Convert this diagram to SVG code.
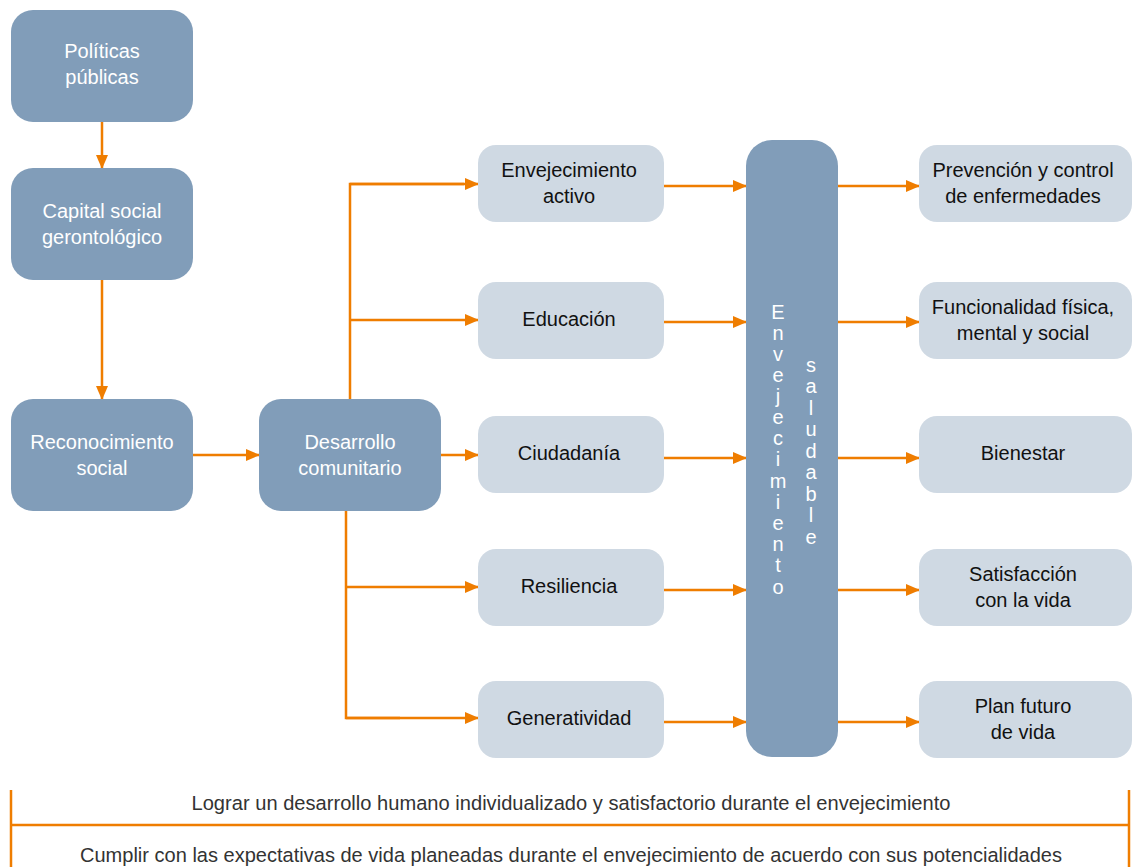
<svg xmlns="http://www.w3.org/2000/svg" width="1134" height="867" viewBox="0 0 1134 867">
<style>
.dk{fill:#819db9}
.lt{fill:#cfd9e3}
.tw{fill:#ffffff;font-family:"Liberation Sans",Arial,sans-serif;font-size:20px;text-anchor:middle}
.tb{fill:#111111;font-family:"Liberation Sans",Arial,sans-serif;font-size:20px;text-anchor:middle}
.bt{fill:#333333;font-family:"Liberation Sans",Arial,sans-serif;font-size:20.5px;text-anchor:middle}
.c{stroke:#ef7d00;stroke-width:2.5;fill:none}
.ca{stroke:#ef7d00;stroke-width:2.5;fill:none;marker-end:url(#ah)}
</style>
<defs>
<marker id="ah" markerWidth="14" markerHeight="12" refX="13" refY="6" orient="auto" markerUnits="userSpaceOnUse">
<path d="M0,0 L14,6 L0,12 Z" fill="#ef7d00"/>
</marker>
</defs>
<g id="connectors">
<line class="ca" x1="102" y1="122" x2="102" y2="168"/>
<line class="ca" x1="102" y1="280" x2="102" y2="399"/>
<line class="ca" x1="193" y1="455" x2="259" y2="455"/>
<polyline class="c" points="350,399 350,184 464,184"/>
<line class="ca" x1="350" y1="184" x2="478" y2="184"/>
<line class="ca" x1="350" y1="320" x2="478" y2="320"/>
<line class="ca" x1="441" y1="455" x2="478" y2="455"/>
<polyline class="c" points="346,511 346,718 400,718"/>
<line class="ca" x1="346" y1="587" x2="478" y2="587"/>
<line class="ca" x1="346" y1="718" x2="478" y2="718"/>
<line class="ca" x1="664" y1="186" x2="746" y2="186"/>
<line class="ca" x1="664" y1="322" x2="746" y2="322"/>
<line class="ca" x1="664" y1="458" x2="746" y2="458"/>
<line class="ca" x1="662" y1="590" x2="746" y2="590"/>
<line class="ca" x1="662" y1="722" x2="746" y2="722"/>
<line class="ca" x1="838" y1="186" x2="919" y2="186"/>
<line class="ca" x1="838" y1="322" x2="919" y2="322"/>
<line class="ca" x1="838" y1="458" x2="919" y2="458"/>
<line class="ca" x1="838" y1="590" x2="919" y2="590"/>
<line class="ca" x1="838" y1="722" x2="919" y2="722"/>
<line class="c" x1="11" y1="790" x2="11" y2="867" stroke-width="2"/>
<line class="c" x1="1129" y1="790" x2="1129" y2="867" stroke-width="2"/>
<line class="c" x1="11" y1="825" x2="1129" y2="825" stroke-width="3"/>
</g>
<g id="n-politicas"><rect class="dk" x="11" y="10" width="182" height="112" rx="22"/>
<text class="tw" x="102" y="58">Políticas</text><text class="tw" x="102" y="84">públicas</text></g>
<g id="n-capital"><rect class="dk" x="11" y="168" width="182" height="112" rx="22"/>
<text class="tw" x="102" y="218">Capital social</text><text class="tw" x="102" y="244">gerontológico</text></g>
<g id="n-reconocimiento"><rect class="dk" x="11" y="399" width="182" height="112" rx="22"/>
<text class="tw" x="102" y="449">Reconocimiento</text><text class="tw" x="102" y="475">social</text></g>
<g id="n-desarrollo"><rect class="dk" x="259" y="399" width="182" height="112" rx="22"/>
<text class="tw" x="350" y="449">Desarrollo</text><text class="tw" x="350" y="475">comunitario</text></g>
<g id="n-activo"><rect class="lt" x="478" y="145" width="186" height="77" rx="18"/>
<text class="tb" x="569" y="177">Envejecimiento</text><text class="tb" x="569" y="203">activo</text></g>
<g id="n-educacion"><rect class="lt" x="478" y="282" width="186" height="77" rx="18"/>
<text class="tb" x="569" y="326">Educación</text></g>
<g id="n-ciudadania"><rect class="lt" x="478" y="416" width="186" height="77" rx="18"/>
<text class="tb" x="569" y="460">Ciudadanía</text></g>
<g id="n-resiliencia"><rect class="lt" x="478" y="549" width="186" height="77" rx="18"/>
<text class="tb" x="569" y="593">Resiliencia</text></g>
<g id="n-generatividad"><rect class="lt" x="478" y="681" width="186" height="77" rx="18"/>
<text class="tb" x="569" y="725">Generatividad</text></g>
<g id="n-saludable"><rect class="dk" x="746" y="140" width="92" height="617" rx="26"/>
<text class="tw" font-size="19"><tspan x="778" y="319">E</tspan><tspan x="778" y="340">n</tspan><tspan x="778" y="361">v</tspan><tspan x="778" y="382">e</tspan><tspan x="778" y="403">j</tspan><tspan x="778" y="424">e</tspan><tspan x="778" y="445">c</tspan><tspan x="778" y="466">i</tspan><tspan x="778" y="488">m</tspan><tspan x="778" y="509">i</tspan><tspan x="778" y="530">e</tspan><tspan x="778" y="551">n</tspan><tspan x="778" y="572">t</tspan><tspan x="778" y="594">o</tspan></text>
<text class="tw" font-size="19"><tspan x="811" y="372">s</tspan><tspan x="811" y="393">a</tspan><tspan x="811" y="415">l</tspan><tspan x="811" y="436">u</tspan><tspan x="811" y="458">d</tspan><tspan x="811" y="479">a</tspan><tspan x="811" y="501">b</tspan><tspan x="811" y="522">l</tspan><tspan x="811" y="544">e</tspan></text></g>
<g id="n-prevencion"><rect class="lt" x="919" y="145" width="213" height="77" rx="18"/>
<text class="tb" x="1023" y="177">Prevención y control</text><text class="tb" x="1023" y="203">de enfermedades</text></g>
<g id="n-funcionalidad"><rect class="lt" x="919" y="282" width="213" height="77" rx="18"/>
<text class="tb" x="1023" y="314">Funcionalidad física,</text><text class="tb" x="1023" y="340">mental y social</text></g>
<g id="n-bienestar"><rect class="lt" x="919" y="416" width="213" height="77" rx="18"/>
<text class="tb" x="1023" y="460">Bienestar</text></g>
<g id="n-satisfaccion"><rect class="lt" x="919" y="549" width="213" height="77" rx="18"/>
<text class="tb" x="1023" y="581">Satisfacción</text><text class="tb" x="1023" y="607">con la vida</text></g>
<g id="n-plan"><rect class="lt" x="919" y="681" width="213" height="77" rx="18"/>
<text class="tb" x="1023" y="713">Plan futuro</text><text class="tb" x="1023" y="739">de vida</text></g>
<g id="bottom-text">
<text class="bt" x="571" y="810" textLength="759" lengthAdjust="spacingAndGlyphs">Lograr un desarrollo humano individualizado y satisfactorio durante el envejecimiento</text>
<text class="bt" x="571" y="862" textLength="982" lengthAdjust="spacingAndGlyphs">Cumplir con las expectativas de vida planeadas durante el envejecimiento de acuerdo con sus potencialidades</text>
</g>
</svg>
